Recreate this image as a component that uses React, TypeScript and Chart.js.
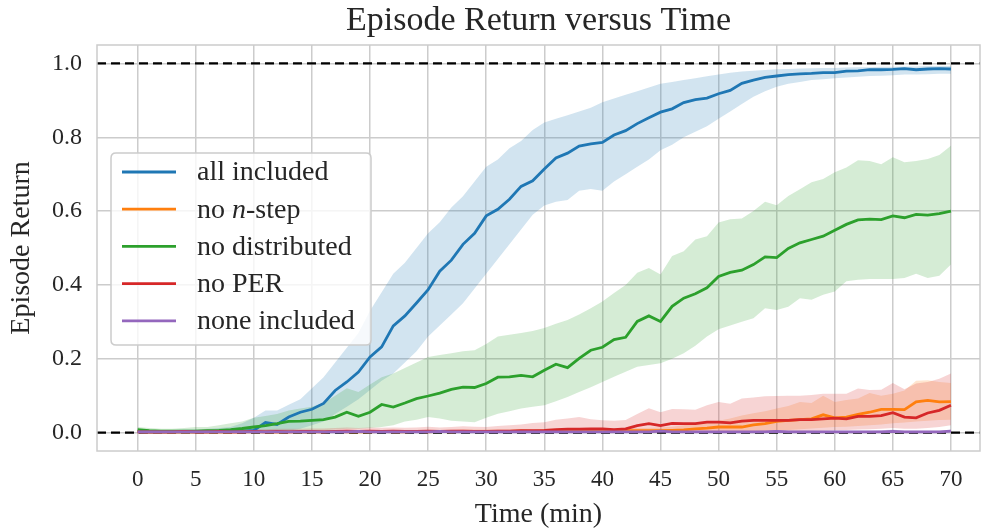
import React, { useEffect, useRef } from "react";
import { Chart, registerables } from "chart.js";

Chart.register(...registerables);

// ---------- data ----------
const minutes = [
  0, 1, 2, 3, 4, 5, 6, 7, 8, 9, 10, 11, 12, 13, 14, 15, 16, 17, 18, 19, 20,
  21, 22, 23, 24, 25, 26, 27, 28, 29, 30, 31, 32, 33, 34, 35, 36, 37, 38, 39, 40,
  41, 42, 43, 44, 45, 46, 47, 48, 49, 50, 51, 52, 53, 54, 55, 56, 57, 58, 59, 60,
  61, 62, 63, 64, 65, 66, 67, 68, 69, 70,
];

const xTicks = [0, 5, 10, 15, 20, 25, 30, 35, 40, 45, 50, 55, 60, 65, 70];
const yTicks = [0.0, 0.2, 0.4, 0.6, 0.8, 1.0];
const refLines = [0.0, 1.0];

const seriesLabels = ["all included", "no $n$-step", "no distributed", "no PER", "none included"];
const seriesColors = ["#1f77b4", "#ff7f0e", "#2ca02c", "#d62728", "#9467bd"];
const bandColors = [
  "rgba(31,119,180,0.2)",
  "rgba(255,127,14,0.2)",
  "rgba(44,160,44,0.2)",
  "rgba(214,39,40,0.2)",
  "rgba(148,103,189,0.2)",
];

// all included
const allMean = [
  0.002, 0.001, 0.001, 0.002, 0.002, 0.002, 0.002, 0.003, 0.003, 0.004,
  0.006, 0.027, 0.022, 0.042, 0.055, 0.063, 0.079, 0.114, 0.137, 0.164,
  0.205, 0.232, 0.289, 0.316, 0.351, 0.387, 0.437, 0.467, 0.51, 0.54,
  0.587, 0.605, 0.632, 0.667, 0.682, 0.714, 0.744, 0.757, 0.776, 0.782,
  0.786, 0.806, 0.818, 0.837, 0.853, 0.868, 0.877, 0.894, 0.902, 0.906,
  0.918, 0.927, 0.946, 0.955, 0.962, 0.966, 0.97, 0.972, 0.973, 0.975,
  0.975, 0.979, 0.98, 0.983, 0.983, 0.984, 0.986, 0.983, 0.985, 0.986, 0.985,
];
const allUpper = [
  0.008, 0.006, 0.006, 0.007, 0.008, 0.008, 0.01, 0.012, 0.015, 0.025,
  0.04, 0.06, 0.06, 0.075, 0.09, 0.12, 0.15, 0.19, 0.23, 0.27,
  0.33, 0.38, 0.43, 0.46, 0.5, 0.54, 0.57, 0.61, 0.64, 0.68,
  0.72, 0.74, 0.77, 0.79, 0.82, 0.84, 0.85, 0.86, 0.87, 0.88,
  0.895, 0.905, 0.915, 0.925, 0.935, 0.945, 0.95, 0.955, 0.96, 0.965,
  0.97, 0.975, 0.978, 0.98, 0.982, 0.984, 0.985, 0.986, 0.987, 0.988,
  0.988, 0.989, 0.99, 0.99, 0.991, 0.991, 0.992, 0.992, 0.993, 0.993, 0.993,
];
const allLower = [
  0, 0, 0, 0, 0, 0, 0, 0, 0, 0,
  0, 0.002, 0.003, 0.005, 0.01, 0.02, 0.03, 0.05, 0.07, 0.09,
  0.115, 0.14, 0.16, 0.19, 0.22, 0.26, 0.29, 0.32, 0.35, 0.39,
  0.43, 0.47, 0.51, 0.55, 0.59, 0.615, 0.625, 0.63, 0.655, 0.66,
  0.655, 0.68, 0.7, 0.72, 0.74, 0.765, 0.78, 0.8, 0.815, 0.83,
  0.85, 0.87, 0.89, 0.91, 0.925, 0.937, 0.945, 0.95, 0.955, 0.957,
  0.96, 0.962, 0.964, 0.966, 0.967, 0.968, 0.97, 0.97, 0.971, 0.972, 0.972,
];

// no n-step
const nstepMean = [
  0.002, 0.001, 0.001, 0.001, 0.001, 0.001, 0.001, 0.001, 0.001, 0.002,
  0.002, 0.002, 0.001, 0.002, 0.002, 0.002, 0.002, 0.003, 0.002, 0.002,
  0.002, 0.003, 0.002, 0.002, 0.003, 0.002, 0.003, 0.002, 0.003, 0.003,
  0.003, 0.003, 0.003, 0.004, 0.003, 0.004, 0.004, 0.004, 0.004, 0.004,
  0.004, 0.004, 0.005, 0.005, 0.005, 0.005, 0.006, 0.007, 0.01, 0.012,
  0.015, 0.015, 0.015, 0.021, 0.024, 0.03, 0.033, 0.035, 0.037, 0.048,
  0.04, 0.042, 0.049, 0.055, 0.063, 0.063, 0.062, 0.083, 0.087, 0.083, 0.084,
];
const nstepUpper = [
  0.005, 0.004, 0.004, 0.004, 0.004, 0.004, 0.004, 0.005, 0.005, 0.006,
  0.006, 0.006, 0.005, 0.006, 0.006, 0.006, 0.006, 0.007, 0.006, 0.006,
  0.006, 0.007, 0.006, 0.006, 0.007, 0.006, 0.007, 0.007, 0.008, 0.008,
  0.008, 0.008, 0.008, 0.009, 0.008, 0.009, 0.009, 0.009, 0.01, 0.01,
  0.01, 0.01, 0.012, 0.012, 0.013, 0.014, 0.016, 0.02, 0.025, 0.028,
  0.032, 0.038, 0.046, 0.052, 0.058, 0.065, 0.072, 0.083, 0.08, 0.1,
  0.083, 0.088, 0.092, 0.107, 0.1, 0.105, 0.114, 0.14, 0.142, 0.137, 0.134,
];
const nstepLower = [
  0, 0, 0, 0, 0, 0, 0, 0, 0, 0,
  0, 0, 0, 0, 0, 0, 0, 0, 0, 0,
  0, 0, 0, 0, 0, 0, 0, 0, 0, 0,
  0, 0, 0, 0, 0, 0, 0, 0, 0, 0,
  0, 0, 0, 0, 0, 0, 0, 0, 0, 0,
  0, 0.001, 0.002, 0.003, 0.004, 0.005, 0.007, 0.009, 0.011, 0.013,
  0.015, 0.016, 0.018, 0.02, 0.022, 0.025, 0.027, 0.03, 0.032, 0.034, 0.035,
];

// no distributed
const distMean = [
  0.008, 0.005, 0.004, 0.004, 0.004, 0.004, 0.005, 0.006, 0.008, 0.011,
  0.015, 0.019, 0.024, 0.03, 0.031, 0.033, 0.035, 0.042, 0.055, 0.044,
  0.055, 0.076, 0.069, 0.08, 0.092, 0.099, 0.107, 0.117, 0.123, 0.122,
  0.133, 0.15, 0.151, 0.155, 0.151, 0.169, 0.185, 0.176, 0.201, 0.223,
  0.231, 0.252, 0.258, 0.301, 0.316, 0.301, 0.342, 0.364, 0.376, 0.392,
  0.423, 0.434, 0.44, 0.455, 0.476, 0.474, 0.499, 0.514, 0.523, 0.532,
  0.548, 0.564, 0.576, 0.578, 0.577, 0.587, 0.582, 0.591, 0.589, 0.593, 0.6,
];
const distUpper = [
  0.015, 0.012, 0.01, 0.01, 0.012, 0.015, 0.015, 0.02, 0.025, 0.03,
  0.04, 0.045, 0.05, 0.06, 0.065, 0.07, 0.08, 0.1, 0.12, 0.11,
  0.13, 0.15, 0.16, 0.175, 0.19, 0.205, 0.21, 0.215, 0.22, 0.223,
  0.24, 0.26, 0.265, 0.27, 0.275, 0.283, 0.295, 0.305, 0.32, 0.337,
  0.355, 0.378, 0.4, 0.433, 0.446, 0.428, 0.478, 0.491, 0.523, 0.532,
  0.569, 0.578, 0.58, 0.6, 0.625, 0.616, 0.641, 0.659, 0.678, 0.687,
  0.705, 0.718, 0.738, 0.736, 0.727, 0.746, 0.732, 0.736, 0.741, 0.752, 0.777,
];
const distLower = [
  0, 0, 0, 0, 0, 0, 0, 0, 0, 0,
  0, 0, 0.002, 0.003, 0.004, 0.005, 0.006, 0.008, 0.01, 0.01,
  0.012, 0.015, 0.02, 0.03, 0.035, 0.042, 0.038, 0.032, 0.03, 0.028,
  0.04, 0.051, 0.058, 0.065, 0.07, 0.074, 0.085, 0.096, 0.11, 0.123,
  0.137, 0.151, 0.165, 0.178, 0.183, 0.188, 0.2, 0.215, 0.235, 0.26,
  0.28, 0.29, 0.3, 0.31, 0.337, 0.332, 0.341, 0.364, 0.36, 0.373,
  0.382, 0.41, 0.414, 0.416, 0.416, 0.416, 0.419, 0.43, 0.419, 0.425, 0.455,
];

// no PER
const perMean = [
  0.002, 0.002, 0.002, 0.002, 0.003, 0.002, 0.002, 0.003, 0.002, 0.002,
  0.003, 0.002, 0.003, 0.002, 0.003, 0.003, 0.002, 0.003, 0.004, 0.003,
  0.004, 0.003, 0.004, 0.003, 0.003, 0.004, 0.003, 0.004, 0.004, 0.003,
  0.003, 0.004, 0.004, 0.005, 0.005, 0.006, 0.008, 0.009, 0.009, 0.01,
  0.01, 0.008, 0.01, 0.019, 0.024, 0.019, 0.025, 0.024, 0.024, 0.028,
  0.028, 0.026, 0.031, 0.033, 0.033, 0.033, 0.033, 0.035, 0.035, 0.037,
  0.039, 0.037, 0.044, 0.044, 0.046, 0.054, 0.042, 0.04, 0.053, 0.06, 0.074,
];
const perUpper = [
  0.006, 0.006, 0.006, 0.007, 0.007, 0.007, 0.008, 0.008, 0.008, 0.008,
  0.009, 0.009, 0.01, 0.01, 0.01, 0.011, 0.011, 0.012, 0.014, 0.012,
  0.014, 0.013, 0.014, 0.013, 0.014, 0.016, 0.014, 0.015, 0.017, 0.016,
  0.015, 0.018, 0.02, 0.022, 0.026, 0.028, 0.035, 0.038, 0.042, 0.036,
  0.033, 0.032, 0.034, 0.05, 0.066, 0.055, 0.064, 0.063, 0.062, 0.074,
  0.083, 0.078, 0.092, 0.095, 0.098, 0.099, 0.1, 0.1, 0.102, 0.105,
  0.105, 0.105, 0.119, 0.115, 0.116, 0.134, 0.117, 0.133, 0.137, 0.146, 0.16,
];
const perLower = [
  0, 0, 0, 0, 0, 0, 0, 0, 0, 0,
  0, 0, 0, 0, 0, 0, 0, 0, 0, 0,
  0, 0, 0, 0, 0, 0, 0, 0, 0, 0,
  0, 0, 0, 0, 0, 0, 0, 0, 0, 0,
  0, 0, 0, 0, 0, 0, 0, 0, 0, 0,
  0, 0, 0, 0, 0, 0, 0.002, 0.003, 0.004, 0.005,
  0.006, 0.007, 0.008, 0.009, 0.01, 0.012, 0.01, 0.01, 0.012, 0.015, 0.02,
];

// none included
const noneMean = [
  0.002, 0.002, 0.002, 0.002, 0.002, 0.002, 0.002, 0.002, 0.002, 0.002,
  0.002, 0.002, 0.002, 0.002, 0.002, 0.002, 0.002, 0.002, 0.002, 0.003,
  0.002, 0.002, 0.002, 0.002, 0.002, 0.002, 0.003, 0.002, 0.002, 0.002,
  0.002, 0.002, 0.002, 0.002, 0.002, 0.002, 0.002, 0.002, 0.002, 0.002,
  0.002, 0.002, 0.002, 0.002, 0.002, 0.004, 0.002, 0.002, 0.002, 0.002,
  0.002, 0.002, 0.002, 0.002, 0.002, 0.003, 0.002, 0.002, 0.002, 0.002,
  0.002, 0.002, 0.002, 0.002, 0.002, 0.003, 0.002, 0.002, 0.002, 0.002, 0.004,
];
const noneUpper = [
  0.005, 0.005, 0.005, 0.005, 0.005, 0.005, 0.005, 0.005, 0.005, 0.005,
  0.005, 0.005, 0.005, 0.005, 0.005, 0.005, 0.005, 0.005, 0.006, 0.007,
  0.005, 0.005, 0.005, 0.005, 0.005, 0.006, 0.007, 0.005, 0.005, 0.005,
  0.005, 0.005, 0.005, 0.005, 0.005, 0.005, 0.005, 0.005, 0.005, 0.005,
  0.005, 0.005, 0.005, 0.005, 0.006, 0.009, 0.005, 0.005, 0.005, 0.005,
  0.005, 0.005, 0.005, 0.005, 0.006, 0.007, 0.005, 0.005, 0.005, 0.005,
  0.005, 0.005, 0.005, 0.005, 0.006, 0.008, 0.005, 0.005, 0.005, 0.005, 0.008,
];
const noneLower = [
  0, 0, 0, 0, 0, 0, 0, 0, 0, 0,
  0, 0, 0, 0, 0, 0, 0, 0, 0, 0,
  0, 0, 0, 0, 0, 0, 0, 0, 0, 0,
  0, 0, 0, 0, 0, 0, 0, 0, 0, 0,
  0, 0, 0, 0, 0, 0, 0, 0, 0, 0,
  0, 0, 0, 0, 0, 0, 0, 0, 0, 0,
  0, 0, 0, 0, 0, 0, 0, 0, 0, 0, 0,
];

const means = [allMean, nstepMean, distMean, perMean, noneMean];
const uppers = [allUpper, nstepUpper, distUpper, perUpper, noneUpper];
const lowers = [allLower, nstepLower, distLower, perLower, noneLower];

// ---------- style / layout ----------
const FONT = "'Liberation Serif', 'Times New Roman', serif";
const TEXT = "#262626";
const GRID = "#cccccc";
const W = 982;
const H = 529;
const PLOT_LEFT = 97;
const PLOT_BOTTOM_SPACE = 78;
const LINE_W = 2.8;

const plainLabel = (s: string) => s.replace(/\$/g, "");

const framePlugin = {
  id: "frameAndRefs",
  beforeDatasetsDraw(chart: any) {
    const { ctx, chartArea, scales } = chart;
    ctx.save();
    ctx.strokeStyle = "#000000";
    ctx.lineWidth = 2.2;
    ctx.setLineDash([9, 5]);
    refLines.forEach((v) => {
      const y = scales.y.getPixelForValue(v);
      ctx.beginPath();
      ctx.moveTo(chartArea.left, y);
      ctx.lineTo(chartArea.right, y);
      ctx.stroke();
    });
    ctx.restore();
  },
  afterDatasetsDraw(chart: any) {
    const { ctx, chartArea } = chart;
    ctx.save();
    ctx.strokeStyle = GRID;
    ctx.lineWidth = 1.5;
    ctx.strokeRect(
      chartArea.left,
      chartArea.top,
      chartArea.right - chartArea.left,
      chartArea.bottom - chartArea.top
    );
    ctx.restore();
  },
  afterDraw(chart: any) {
    const { ctx } = chart;
    const bx = 111;
    const by = 153;
    const bw = 260;
    const bh = 192;
    const r = 5;
    ctx.save();
    ctx.beginPath();
    ctx.moveTo(bx + r, by);
    ctx.lineTo(bx + bw - r, by);
    ctx.quadraticCurveTo(bx + bw, by, bx + bw, by + r);
    ctx.lineTo(bx + bw, by + bh - r);
    ctx.quadraticCurveTo(bx + bw, by + bh, bx + bw - r, by + bh);
    ctx.lineTo(bx + r, by + bh);
    ctx.quadraticCurveTo(bx, by + bh, bx, by + bh - r);
    ctx.lineTo(bx, by + r);
    ctx.quadraticCurveTo(bx, by, bx + r, by);
    ctx.closePath();
    ctx.fillStyle = "rgba(255,255,255,0.8)";
    ctx.fill();
    ctx.strokeStyle = GRID;
    ctx.lineWidth = 1.5;
    ctx.stroke();

    const size = 28;
    seriesLabels.forEach((lab, i) => {
      const y = 172 + i * 37.2;
      ctx.strokeStyle = seriesColors[i];
      ctx.lineWidth = LINE_W;
      ctx.setLineDash([]);
      ctx.beginPath();
      ctx.moveTo(122, y);
      ctx.lineTo(176, y);
      ctx.stroke();

      ctx.fillStyle = TEXT;
      ctx.textBaseline = "middle";
      ctx.textAlign = "left";
      let x = 197;
      const parts = lab.split("$");
      parts.forEach((p, k) => {
        if (!p) return;
        ctx.font = (k % 2 === 1 ? "italic " : "") + size + "px " + FONT;
        ctx.fillText(p, x, y + 1);
        x += ctx.measureText(p).width;
      });
    });
    ctx.restore();
  },
};

export default function App() {
  const ref = useRef<HTMLCanvasElement | null>(null);

  useEffect(() => {
    document.body.style.margin = "0";
    const canvas = ref.current;
    if (!canvas) return;

    const datasets: any[] = [];
    // bands: lower then upper (fill to lower)
    means.forEach((_, i) => {
      const lowerIndex = datasets.length;
      datasets.push({
        label: "_lower" + i,
        data: minutes.map((m, k) => ({ x: m, y: lowers[i][k] })),
        borderWidth: 0,
        pointRadius: 0,
        fill: false,
        order: 20 - i,
      });
      datasets.push({
        label: "_upper" + i,
        data: minutes.map((m, k) => ({ x: m, y: uppers[i][k] })),
        borderWidth: 0,
        pointRadius: 0,
        backgroundColor: bandColors[i],
        fill: lowerIndex,
        order: 20 - i,
      });
    });
    means.forEach((arr, i) => {
      datasets.push({
        label: plainLabel(seriesLabels[i]),
        data: minutes.map((m, k) => ({ x: m, y: arr[k] })),
        borderColor: seriesColors[i],
        backgroundColor: seriesColors[i],
        borderWidth: LINE_W,
        pointRadius: 0,
        fill: false,
        tension: 0,
        order: 10 - i,
      });
    });

    const chart = new Chart(canvas, {
      type: "line",
      data: { datasets },
      options: {
        responsive: false,
        animation: false,
        devicePixelRatio: 1,
        layout: { padding: { left: 0, right: 2, top: 0, bottom: 0 } },
        plugins: {
          legend: { display: false },
          tooltip: { enabled: false },
          filler: { drawTime: "beforeDatasetsDraw" },
          title: {
            display: true,
            fullSize: false,
            text: "Episode Return versus Time",
            color: TEXT,
            font: { family: FONT, size: 34, weight: "normal", lineHeight: 1.2 },
            padding: { top: 1, bottom: 3.2 },
          },
        },
        scales: {
          x: {
            type: "linear",
            min: -3.5,
            max: 72.5,
            afterBuildTicks: (s: any) => {
              s.ticks = xTicks.map((v) => ({ value: v }));
            },
            afterFit: (s: any) => {
              s.height = PLOT_BOTTOM_SPACE;
            },
            ticks: {
              color: TEXT,
              font: { family: FONT, size: 23 },
              padding: 15,
              maxRotation: 0,
              autoSkip: false,
              callback: (v: any) => String(v),
            },
            grid: { color: GRID, lineWidth: 1.5, drawTicks: false },
            border: { display: false },
            title: {
              display: true,
              text: "Time (min)",
              color: TEXT,
              font: { family: FONT, size: 28, lineHeight: 1 },
              padding: { top: 0, bottom: 0 },
            },
          },
          y: {
            type: "linear",
            min: -0.05,
            max: 1.05,
            afterBuildTicks: (s: any) => {
              s.ticks = yTicks.map((v) => ({ value: v }));
            },
            afterFit: (s: any) => {
              s.width = PLOT_LEFT;
            },
            ticks: {
              color: TEXT,
              font: { family: FONT, size: 24 },
              padding: 15,
              callback: (v: any) => Number(v).toFixed(1),
            },
            grid: { color: GRID, lineWidth: 1.5, drawTicks: false },
            border: { display: false },
            title: {
              display: true,
              text: "Episode Return",
              color: TEXT,
              font: { family: FONT, size: 28, lineHeight: 1 },
              padding: { top: 8, bottom: 0 },
            },
          },
        },
      },
      plugins: [framePlugin],
    } as any);

    return () => chart.destroy();
  }, []);

  return (
    <div style={{ width: W, height: H }}>
      <canvas ref={ref} width={W} height={H} style={{ display: "block" }} />
    </div>
  );
}
